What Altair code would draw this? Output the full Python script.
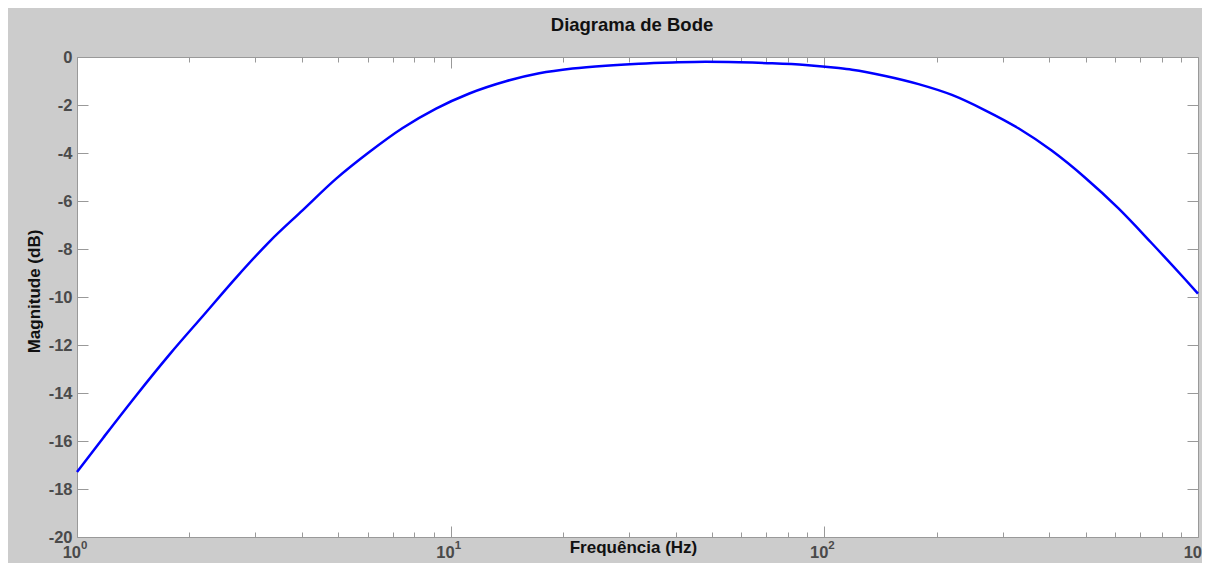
import altair as alt
import pandas as pd

# ---- data ----
freq = [1, 1.176, 1.444, 1.772, 2.175, 2.67, 3.28, 4.02, 4.94, 6.07, 7.44, 9.14,
        11.22, 14.06, 17.26, 21.2, 26.0, 31.9, 39.2, 48.1, 59.1, 72.5, 89.0,
        109.3, 118.6, 145.6, 178.7, 219.5, 269.4, 330.7, 405.9, 498.1, 611.7,
        751, 922, 1000]
mag = [-17.29, -15.86, -14.08, -12.38, -10.78, -9.18, -7.68, -6.38, -5.07, -3.95,
       -2.96, -2.15, -1.52, -1.01, -0.68, -0.48, -0.36, -0.28, -0.23, -0.20, -0.22,
       -0.26, -0.33, -0.46, -0.53, -0.79, -1.13, -1.58, -2.22, -2.97, -3.90, -5.02,
       -6.30, -7.75, -9.25, -9.86]

major_x = [1, 10, 100, 1000]
minor_x = [2, 3, 4, 5, 6, 7, 8, 9, 20, 30, 40, 50, 60, 70, 80, 90,
           200, 300, 400, 500, 600, 700, 800, 900]
exp_labels = ["0", "1", "2", "3"]
y_ticks = [0, -2, -4, -6, -8, -10, -12, -14, -16, -18, -20]
y_min, y_max = -20, 0

df = pd.DataFrame({"f": freq, "m": mag})
dec = pd.DataFrame({"f": major_x, "base": ["10"] * len(major_x), "exp": exp_labels,
                    "m": [y_min] * len(major_x)})

FONT = "Liberation Sans"
GRAY = "#999999"
LABEL = "#4a4a4a"

xscale = alt.Scale(type="log", domain=[1, 1000], nice=False)
yscale = alt.Scale(domain=[y_min, y_max], nice=False, zero=False)

ax_bottom_major = alt.Axis(orient="bottom", values=major_x, tickSize=11, offset=-11,
                           labels=False, title="Frequência  (Hz)", titlePadding=2,
                           titleX=556)
ax_bottom_minor = alt.Axis(orient="bottom", values=minor_x, tickSize=5, offset=-5,
                           labels=False, title=None)
ax_top_major = alt.Axis(orient="top", values=major_x, tickSize=11, offset=-11,
                        labels=False, title=None)
ax_top_minor = alt.Axis(orient="top", values=minor_x, tickSize=5, offset=-5,
                        labels=False, title=None)
ax_left = alt.Axis(orient="left", values=y_ticks, tickSize=11, offset=-11,
                   labelPadding=5, labelExpr="'' + datum.value",
                   title="Magnitude (dB)", titlePadding=5, titleY=234)
ax_right = alt.Axis(orient="right", values=y_ticks, tickSize=11, offset=-11,
                    labels=False, title=None)

line = alt.Chart(df).mark_line(color="#0000ff", strokeWidth=2.5, interpolate="monotone").encode(
    x=alt.X("f:Q", scale=xscale, axis=ax_bottom_major),
    y=alt.Y("m:Q", scale=yscale, axis=ax_left),
)
ghost1 = alt.Chart(df).mark_point(opacity=0).encode(
    x=alt.X("f:Q", scale=xscale, axis=ax_bottom_minor),
    y=alt.Y("m:Q", scale=yscale, axis=ax_right),
)
ghost2 = alt.Chart(df).mark_point(opacity=0).encode(
    x=alt.X("f:Q", scale=xscale, axis=ax_top_major),
    y=alt.Y("m:Q", scale=yscale, axis=None),
)
ghost3 = alt.Chart(df).mark_point(opacity=0).encode(
    x=alt.X("f:Q", scale=xscale, axis=ax_top_minor),
    y=alt.Y("m:Q", scale=yscale, axis=None),
)
base_txt = alt.Chart(dec).mark_text(align="right", baseline="alphabetic", dx=4, dy=21,
                                    font=FONT, fontSize=16.5, fontWeight="bold",
                                    color=LABEL).encode(
    x=alt.X("f:Q", scale=xscale, axis=None),
    y=alt.Y("m:Q", scale=yscale, axis=None),
    text="base:N",
)
exp_txt = alt.Chart(dec).mark_text(align="left", baseline="alphabetic", dx=4, dy=12,
                                   font=FONT, fontSize=11.5, fontWeight="bold",
                                   color=LABEL).encode(
    x=alt.X("f:Q", scale=xscale, axis=None),
    y=alt.Y("m:Q", scale=yscale, axis=None),
    text="exp:N",
)

chart = alt.layer(line, ghost1, ghost2, ghost3, base_txt, exp_txt).resolve_axis(
    x="independent", y="independent"
).properties(
    width=1121,
    height=480,
    autosize="none",
    padding={"left": 69, "top": 49, "right": 4, "bottom": 26},
    background="#cccccc",
    title=alt.TitleParams("Diagrama de Bode", font=FONT, fontSize=18.5, fontWeight="bold",
                          color="#111111", anchor="middle", frame="group", dx=-5.5,
                          baseline="alphabetic", offset=0),
).configure_view(
    fill="white", stroke=GRAY, strokeWidth=1
).configure_axis(
    domain=False, grid=False, tickColor=GRAY, tickWidth=1,
    labelFont=FONT, labelFontSize=16.5, labelFontWeight="bold", labelColor=LABEL,
    labelFlush=False, labelOverlap=False,
    titleFont=FONT, titleFontSize=17, titleFontWeight="bold", titleColor="#111111",
)

chart.save("out.html", embed_options={"renderer": "svg", "actions": False})
